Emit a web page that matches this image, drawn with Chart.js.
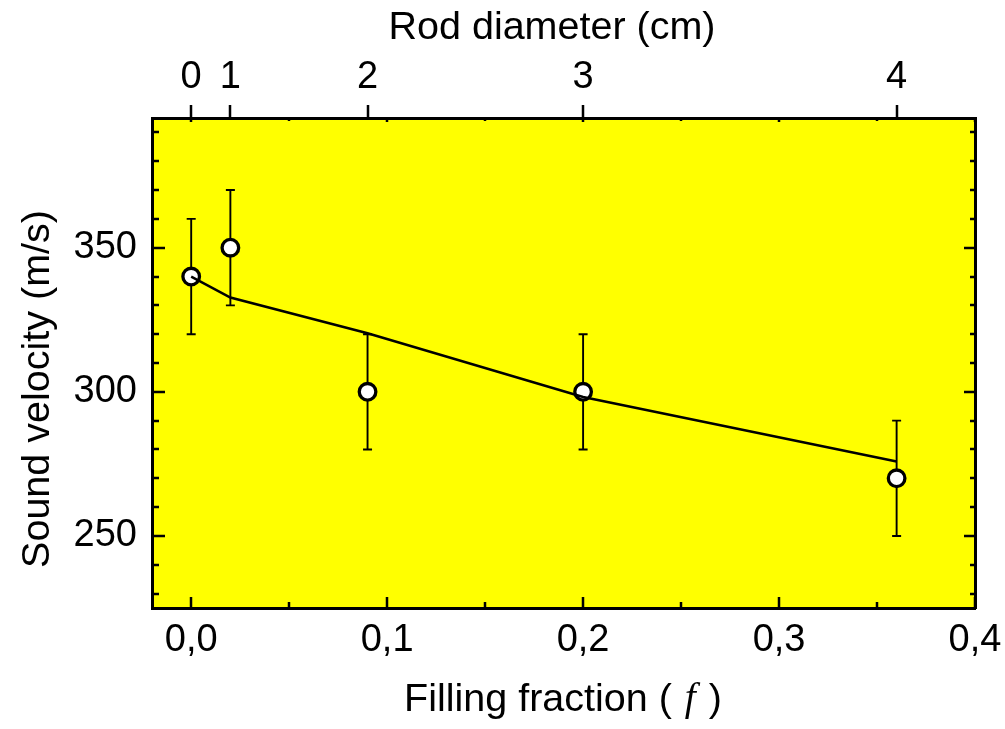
<!DOCTYPE html>
<html>
<head>
<meta charset="utf-8">
<script src="https://cdn.jsdelivr.net/npm/chart.js@4.4.1/dist/chart.umd.min.js"></script>
<style>
  body { margin: 0; background: #fff; }
  #wrap { width: 1005px; height: 729px; }
</style>
</head>
<body>
<div id="wrap"><canvas id="mainChart" width="1005" height="729"></canvas></div>
<script>
// --- Data ---
const fillFraction = [0, 0.02, 0.09, 0.2, 0.36];
const soundVelocity = [340, 350, 300, 300, 270];
const velocityError = [20, 20, 20, 20, 20];
const fitVelocity = [340, 332.7, 320.3, 298.2, 275.8];
const rodDiameterLabels = ['0', '1', '2', '3', '4'];
const xTickValues = [0, 0.1, 0.2, 0.3, 0.4];
const yTickValues = [250, 300, 350];

const FONT = '"Liberation Sans", Arial, sans-serif';

// --- Plugins ---
const plotBackground = {
    id: 'plotBackground',
    beforeDraw(chart) {
        const { ctx, chartArea: a } = chart;
        ctx.save();
        ctx.fillStyle = '#ffff00';
        ctx.fillRect(a.left, a.top, a.right - a.left, a.bottom - a.top);
        ctx.restore();
    }
};

// inward ticks like the original plot
const innerTicks = {
    id: 'innerTicks',
    afterDraw(chart) {
        const { ctx, chartArea: a, scales } = chart;
        const xs = scales.x, ys = scales.y, xt = scales.x2;
        ctx.save();
        ctx.strokeStyle = '#000';
        ctx.lineWidth = 2.5;
        ctx.beginPath();
        for (let v = 230; v <= 390; v += 10) {
            const py = Math.round(ys.getPixelForValue(v));
            const major = v % 50 === 0;
            ctx.moveTo(a.left, py); ctx.lineTo(a.left + (major ? 13 : 7), py);
            ctx.moveTo(a.right, py); ctx.lineTo(a.right - (major ? 11 : 5), py);
        }
        for (let i = 0; i <= 8; i++) {
            const v = i * 0.05;
            const px = Math.round(xs.getPixelForValue(v));
            const major = i % 2 === 0;
            ctx.moveTo(px, a.bottom); ctx.lineTo(px, a.bottom - (major ? 11 : 6));
            ctx.moveTo(px, a.top); ctx.lineTo(px, a.top + (major ? 4 : 3));
        }
        // top axis ticks point outward
        fillFraction.forEach(f => {
            const px = Math.round(xt.getPixelForValue(f));
            ctx.moveTo(px, a.top); ctx.lineTo(px, a.top - 13);
        });
        ctx.stroke();
        ctx.restore();
    }
};

const errorBars = {
    id: 'errorBars',
    beforeDatasetsDraw(chart) {
        const { ctx, scales } = chart;
        ctx.save();
        ctx.strokeStyle = '#000';
        ctx.lineWidth = 1.9;
        ctx.beginPath();
        fillFraction.forEach((f, i) => {
            const px = scales.x.getPixelForValue(f);
            const hi = scales.y.getPixelForValue(soundVelocity[i] + velocityError[i]);
            const lo = scales.y.getPixelForValue(soundVelocity[i] - velocityError[i]);
            ctx.moveTo(px, hi); ctx.lineTo(px, lo);
            ctx.moveTo(px - 4.5, hi); ctx.lineTo(px + 4.5, hi);
            ctx.moveTo(px - 4.5, lo); ctx.lineTo(px + 4.5, lo);
        });
        ctx.stroke();
        ctx.restore();
    }
};

const axisTitles = {
    id: 'axisTitles',
    afterDraw(chart) {
        const { ctx } = chart;
        const fontSans = '39.5px ' + FONT;
        ctx.save();
        ctx.fillStyle = '#000';
        ctx.textBaseline = 'middle';
        ctx.textAlign = 'center';
        ctx.font = fontSans;
        ctx.fillText('Rod diameter (cm)', 552, 28);

        ctx.save();
        ctx.translate(38, 389);
        ctx.rotate(-Math.PI / 2);
        ctx.fillText('Sound velocity (m/s)', 0, 0);
        ctx.restore();

        // Filling fraction ( f ) with italic serif f
        const partA = 'Filling fraction ( ';
        const partB = 'f';
        const partC = ' )';
        const fontItal = 'italic 39.5px "Liberation Serif", "Times New Roman", serif';
        ctx.font = fontSans;
        const wA = ctx.measureText(partA).width;
        const wC = ctx.measureText(partC).width;
        ctx.font = fontItal;
        const wB = ctx.measureText(partB).width + 4;
        let x = 563 - (wA + wB + wC) / 2;
        const y = 700;
        ctx.textAlign = 'left';
        ctx.font = fontSans;
        ctx.fillText(partA, x, y);
        x += wA;
        ctx.font = fontItal;
        ctx.fillText(partB, x + 2, y);
        x += wB;
        ctx.font = fontSans;
        ctx.fillText(partC, x, y);
        ctx.restore();
    }
};

const noSidePadding = s => { s.paddingLeft = 0; s.paddingRight = 0; };

// --- Chart ---
const ctx = document.getElementById('mainChart').getContext('2d');
const mainChart = new Chart(ctx, {
    type: 'scatter',
    data: {
        datasets: [
            {
                label: 'Fit',
                type: 'line',
                data: fillFraction.map((f, i) => ({ x: f, y: fitVelocity[i] })),
                borderColor: '#000',
                borderWidth: 2.5,
                pointRadius: 0,
                tension: 0,
                fill: false,
                order: 0
            },
            {
                label: 'Measured',
                data: fillFraction.map((f, i) => ({ x: f, y: soundVelocity[i] })),
                backgroundColor: '#fff',
                borderColor: '#000',
                borderWidth: 3.3,
                pointRadius: 8.3,
                pointHoverRadius: 8.3,
                order: 1
            }
        ]
    },
    options: {
        responsive: false,
        animation: false,
        devicePixelRatio: 1,
        layout: { padding: 0, autoPadding: false },
        plugins: {
            legend: { display: false },
            tooltip: { enabled: false }
        },
        scales: {
            x: {
                type: 'linear',
                position: 'bottom',
                min: -0.02,
                max: 0.4,
                afterBuildTicks: s => { s.ticks = xTickValues.map(v => ({ value: v })); },
                afterFit: s => { s.height = 121; noSidePadding(s); },
                grid: { display: false, drawTicks: false },
                border: { display: true, color: '#000', width: 3 },
                ticks: {
                    padding: 10,
                    color: '#000',
                    font: { family: FONT, size: 38 },
                    maxRotation: 0,
                    callback: v => v.toFixed(1).replace('.', ',')
                }
            },
            x2: {
                type: 'linear',
                position: 'top',
                min: -0.02,
                max: 0.4,
                afterBuildTicks: s => { s.ticks = fillFraction.map(v => ({ value: v })); },
                afterFit: s => { s.height = 118; noSidePadding(s); },
                grid: { display: false, drawTicks: false },
                border: { display: true, color: '#000', width: 3 },
                ticks: {
                    padding: 18,
                    color: '#000',
                    font: { family: FONT, size: 38 },
                    maxRotation: 0,
                    autoSkip: false,
                    callback: (v, i) => rodDiameterLabels[i]
                }
            },
            y: {
                type: 'linear',
                position: 'left',
                min: 225,
                max: 395,
                afterBuildTicks: s => { s.ticks = yTickValues.map(v => ({ value: v })); },
                afterFit: s => { s.width = 152; },
                grid: { display: false, drawTicks: false },
                border: { display: true, color: '#000', width: 3 },
                ticks: {
                    padding: 15,
                    color: '#000',
                    font: { family: FONT, size: 38 }
                }
            },
            y2: {
                type: 'linear',
                position: 'right',
                min: 225,
                max: 395,
                afterFit: s => { s.width = 30; },
                grid: { display: false, drawTicks: false },
                border: { display: true, color: '#000', width: 3 },
                ticks: { display: false }
            }
        }
    },
    plugins: [plotBackground, errorBars, innerTicks, axisTitles]
});
</script>
</body>
</html>
